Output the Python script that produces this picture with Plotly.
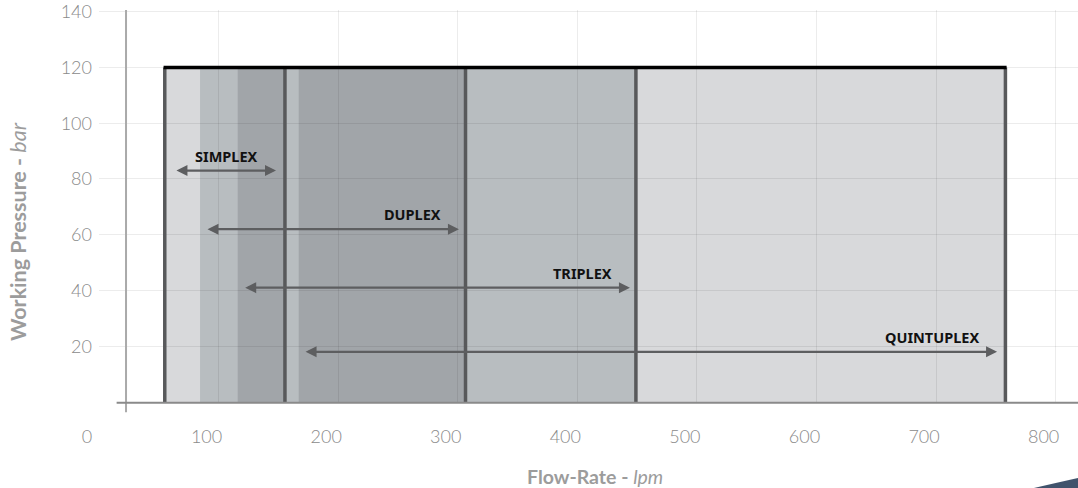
import plotly.graph_objects as go

# ---- data -------------------------------------------------------------
pump_types = ["SIMPLEX", "DUPLEX", "TRIPLEX", "QUINTUPLEX"]
flow_min = [63.5, 89.5, 121, 171.5]          # lpm, arrow start
flow_max = [148, 301, 444, 751]              # lpm, arrow end
arrow_pressure = [83, 62, 41, 18]            # bar
range_limits = [55, 155.5, 306.5, 449, 758]  # lpm, vertical dividers
max_pressure = 120                           # bar
band_start = [55, 84.5, 116, 167]            # lpm
band_end = [758, 449, 155.5, 306.5]          # lpm
band_colors = ["#d8d9db", "#b8bdc0", "#a1a5a9", "#a1a5a9"]

x_ticks = [0, 100, 200, 300, 400, 500, 600, 700, 800]
y_ticks = [20, 40, 60, 80, 100, 120, 140]
x_title = "<b>Flow-Rate - </b><i>lpm</i>"
y_title = "<b>Working Pressure - </b><i>bar</i>"

FONT = "Lato"
GREY = "#9c9c9c"
TICK_GREY = "#8a8a8a"
fig = go.Figure()
# invisible trace to host the grid axis
fig.add_trace(go.Scatter(x=[0, 800], y=[0, 0], xaxis="x2", mode="markers",
                         marker=dict(opacity=0), hoverinfo="skip", showlegend=False))

shapes = []
for s, e, c in zip(band_start, band_end, band_colors):
    shapes.append(dict(type="rect", xref="x", yref="y", x0=s, x1=e, y0=0, y1=max_pressure,
                       fillcolor=c, line=dict(width=0), layer="below"))
for xv in range_limits:
    shapes.append(dict(type="line", xref="x", yref="y", x0=xv, x1=xv, y0=0, y1=max_pressure,
                       line=dict(color="#58595b", width=3.5), layer="above"))
shapes.append(dict(type="line", xref="x", yref="y", x0=range_limits[0] - 1, x1=range_limits[-1] + 1,
                   y0=max_pressure, y1=max_pressure, line=dict(color="#000000", width=3.5), layer="above"))
# axis decorations
shapes.append(dict(type="line", xref="paper", yref="paper", x0=0.0276, x1=0.0276, y0=-0.026, y1=1.0,
                   line=dict(color="#aaaaaa", width=2), layer="above"))
shapes.append(dict(type="line", xref="paper", yref="paper", x0=0.018, x1=1.0, y0=-0.002, y1=-0.002,
                   line=dict(color="#8a8a8a", width=2), layer="above"))
# cropped logo swoosh in the corner
shapes.append(dict(type="path", xref="paper", yref="paper",
                   path="M0.955,-0.2194 Q0.98,-0.205 1.0,-0.1939 L1.0,-0.2194 Z",
                   fillcolor="#2b405c", line=dict(width=0), opacity=0.9, layer="above"))

annotations = []
for name, a, b, p in zip(pump_types, flow_min, flow_max, arrow_pressure):
    annotations.append(dict(x=b, y=p, ax=a, ay=p, xref="x", yref="y", axref="x", ayref="y",
                            text="", showarrow=True, arrowhead=2, startarrowhead=2,
                            arrowside="end+start", arrowsize=1.0, arrowwidth=2.2,
                            arrowcolor="#5d5e60", standoff=0, startstandoff=0))
    annotations.append(dict(x=b, y=p, xref="x", yref="y", text="<b>%s</b>" % name,
                            showarrow=False, xanchor="right", yanchor="middle",
                            xshift=-16, yshift=15,
                            font=dict(family="Noto Sans", size=14.5, color="#111111")))
annotations.append(dict(x=0.5066, y=-0.1888, xref="paper", yref="paper", text=x_title,
                        showarrow=False, xanchor="center", yanchor="middle",
                        font=dict(family=FONT, size=19.5, color=GREY)))
annotations.append(dict(x=-0.0827, y=0.4337, xref="paper", yref="paper", text=y_title,
                        showarrow=False, xanchor="center", yanchor="middle", textangle=-90,
                        font=dict(family=FONT, size=21.5, color=GREY)))

fig.update_layout(
    width=1078, height=488, autosize=False,
    margin=dict(l=99, r=0, t=10, b=86, autoexpand=False),
    plot_bgcolor="white", paper_bgcolor="white",
    shapes=shapes, annotations=annotations, showlegend=False,
    xaxis=dict(range=[0, 818.7], tickvals=x_ticks, showgrid=False, zeroline=False,
               showline=False, ticks="", ticklabelshift=-12, ticklabelstandoff=22,
               automargin=False, ticklabeloverflow="allow",
               tickfont=dict(family=FONT, size=18, color=TICK_GREY, weight=300)),
    xaxis2=dict(range=[0, 818.7], overlaying="x", matches="x", tickvals=x_ticks[1:],
                showgrid=True, gridcolor="rgba(0,0,0,0.075)", gridwidth=1.3,
                showticklabels=False, zeroline=False, showline=False, ticks=""),
    yaxis=dict(range=[0, 140.6], tickvals=y_ticks, showgrid=True, gridcolor="rgba(0,0,0,0.075)",
               gridwidth=1.3, zeroline=False, showline=False, ticks="", ticklabelstandoff=6,
               automargin=False, ticklabeloverflow="allow",
               tickfont=dict(family=FONT, size=18, color=TICK_GREY, weight=300)),
)

fig.write_html("out.html", config={"displayModeBar": False},
               post_script="document.body.style.margin='0';document.body.style.overflow='hidden';")
